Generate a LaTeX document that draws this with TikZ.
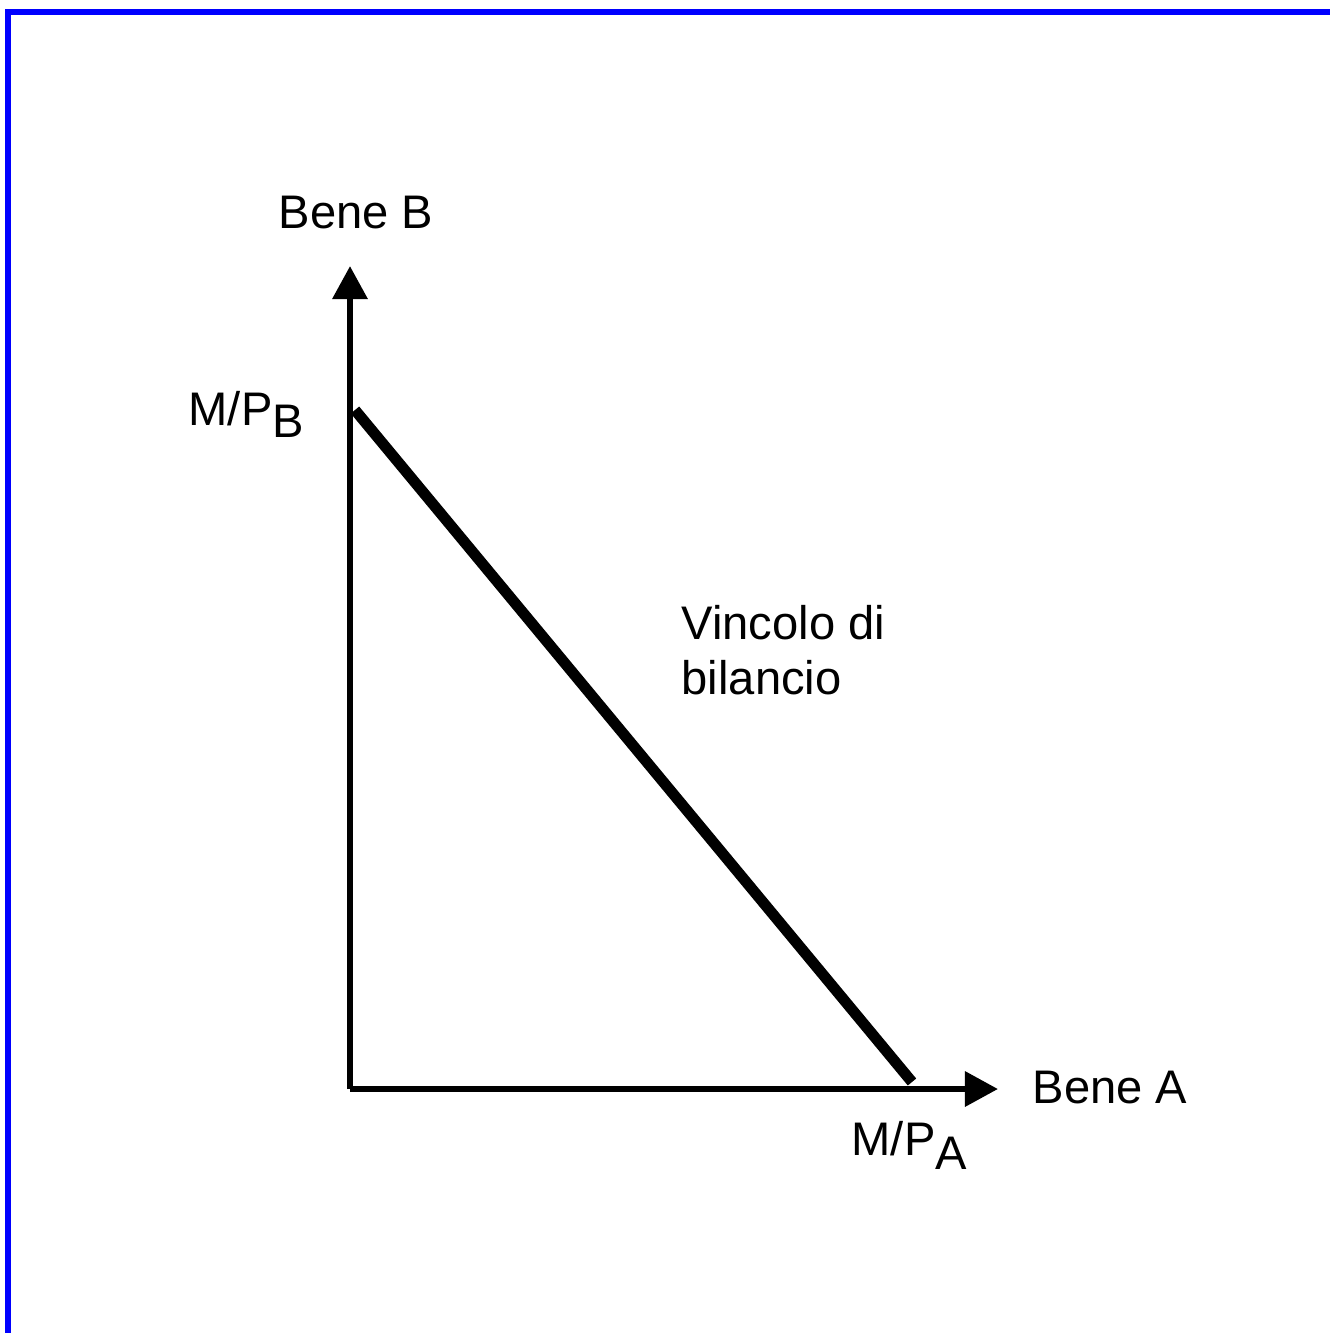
\documentclass[tikz,border=0pt]{standalone}
\usepackage{fontspec}
\setmainfont{Liberation Sans}
\usetikzlibrary{arrows.meta}

\begin{document}
\begin{tikzpicture}[x=0.01cm,y=-0.01cm,
    axis/.style={line width=1.8pt,-{Triangle[length=0.33cm,width=0.34cm]}},
    budget/.style={line width=3.1pt},
    lbl/.style={inner sep=0pt,anchor=base west,font=\fontsize{13.4}{15.6}\selectfont}]
  \useasboundingbox (0,0) rectangle (1330,1333);
  \clip (0,0) rectangle (1330,1333);
  \draw[blue,line width=1.7pt] (8,12) rectangle (1360,1360);
  \coordinate (o) at (350,1089);
  \coordinate (ytip) at (350,266);
  \coordinate (xtip) at (998,1089);
  \coordinate (mpb) at (355,410);
  \coordinate (mpa) at (912,1082);
  \draw[axis] (o) -- (ytip);
  \draw[axis] (o) -- (xtip);
  \draw[budget] (mpb) -- (mpa);
  \node[lbl] (beneb) at (278,228) {Bene B};
  \node[lbl] (benea) at (1032,1103) {Bene A};
  \node[lbl] (labb) at (188,425) {M/P\raisebox{-0.12cm}{B}};
  \node[lbl] (laba) at (851,1155) {M/P\raisebox{-0.14cm}{A}};
  \node[lbl,align=left] (vincolo) at (681,694) {Vincolo di\\bilancio};
\end{tikzpicture}
\end{document}
